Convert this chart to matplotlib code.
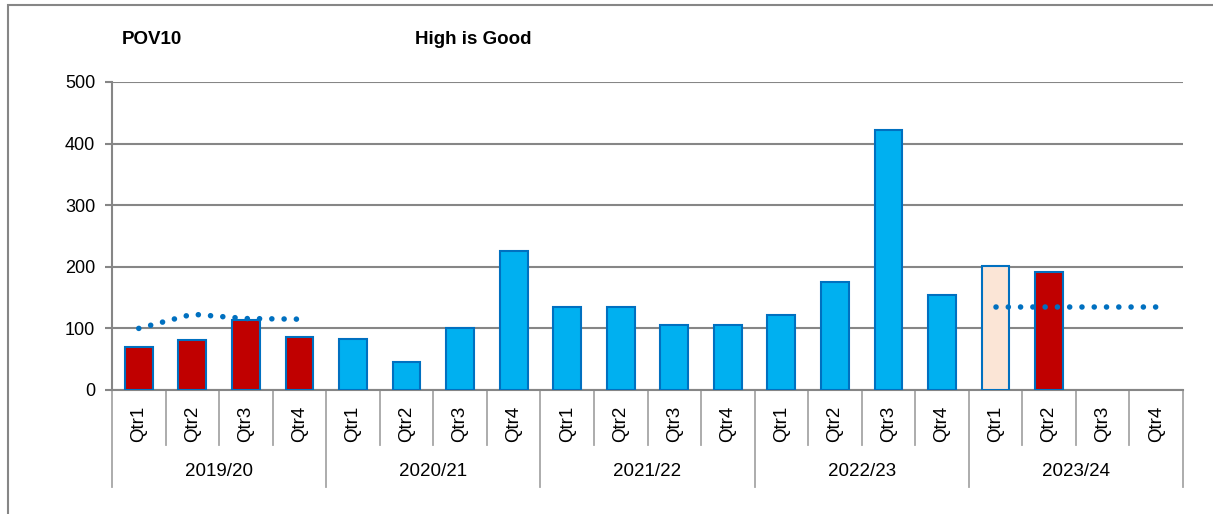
import numpy as np
import matplotlib
matplotlib.use("Agg")
matplotlib.rcParams.update({
    'font.family': ['Liberation Sans', 'DejaVu Sans'],
    'font.size': 12,
})
from matplotlib import pyplot as plt
from matplotlib.transforms import blended_transform_factory

# data
years = ['2019/20', '2020/21', '2021/22', '2022/23', '2023/24']
quarters = ['Qtr1', 'Qtr2', 'Qtr3', 'Qtr4']
values = [70, 81, 113, 86,
          82, 46, 100, 226,
          134, 135, 106, 106,
          122, 176, 422, 155,
          202, 192, np.nan, np.nan]
# status per bar: 'miss' = below target, 'hist' = history, 'prov' = provisional
status = ['miss', 'miss', 'miss', 'miss',
          'hist', 'hist', 'hist', 'hist',
          'hist', 'hist', 'hist', 'hist',
          'hist', 'hist', 'hist', 'hist',
          'prov', 'miss', 'hist', 'hist']
target_1920 = [100, 123, 116, 115]
target_2324 = [134, 134, 134, 134]
yticks = [0, 100, 200, 300, 400, 500]

colour_map = {'miss': '#C00000', 'hist': '#00B0F0', 'prov': '#FBE5D6'}
grid_col = '#868686'

fig = plt.figure(figsize=(12.13, 5.14), dpi=100)
ax = fig.add_axes([112/1213, 1-390/514, (1183-112)/1213, (390-82)/514])

x = np.arange(len(values))
ax.bar(x, values, width=0.52, color=[colour_map[s] for s in status],
       edgecolor='#0070C0', linewidth=1.5, zorder=3)

# target lines
dots = dict(color='#0070C0', lw=4, linestyle=(0, (0.01, 2.2)),
            dash_capstyle='round', zorder=4)
ax.plot(x[0:4], target_1920, **dots)
ax.plot(x[16:20], target_2324, **dots)

ax.set_xlim(-0.5, len(values) - 0.5)
ax.set_ylim(0, 500)
ax.set_yticks(yticks)
ax.yaxis.grid(True, color=grid_col, lw=1.5, zorder=0)
ax.set_axisbelow(True)
for s in ['top', 'right']:
    ax.spines[s].set_visible(False)
ax.spines['left'].set_color(grid_col)
ax.spines['bottom'].set_color(grid_col)
ax.spines['left'].set_linewidth(1.5)
ax.spines['bottom'].set_linewidth(1.5)
ax.tick_params(axis='y', length=5, color=grid_col, width=1.5, pad=7, labelsize=13)
ax.set_xticks([])

# two level category axis
trans = blended_transform_factory(ax.transData, ax.transAxes)
for i in range(len(values)):
    ax.text(i, -0.11, quarters[i % 4], rotation=90, ha='center', va='center',
            fontsize=13.5, transform=trans)
for i in range(len(values) + 1):
    end = -0.315 if i % 4 == 0 else -0.179
    ax.plot([i - 0.5, i - 0.5], [0, end], color='#A6A6A6', lw=1.3,
            transform=trans, clip_on=False)
for j, yr in enumerate(years):
    ax.text(4*j + 1.5, -0.265, yr, ha='center', va='center', fontsize=13.5,
            transform=trans)

fig.text(122/1213, 1-40/514, 'POV10', fontsize=13.5, fontweight='bold', va='center')
fig.text(415/1213, 1-40/514, 'High is Good', fontsize=13.5, fontweight='bold', va='center')

# outer chart border
fig.patches.append(plt.Rectangle((8/1213, -0.1), 1.1, 1.1 - 5/514,
                                 transform=fig.transFigure, fill=False,
                                 edgecolor='#868686', lw=1.5))

fig.savefig('out.png', dpi=100)
